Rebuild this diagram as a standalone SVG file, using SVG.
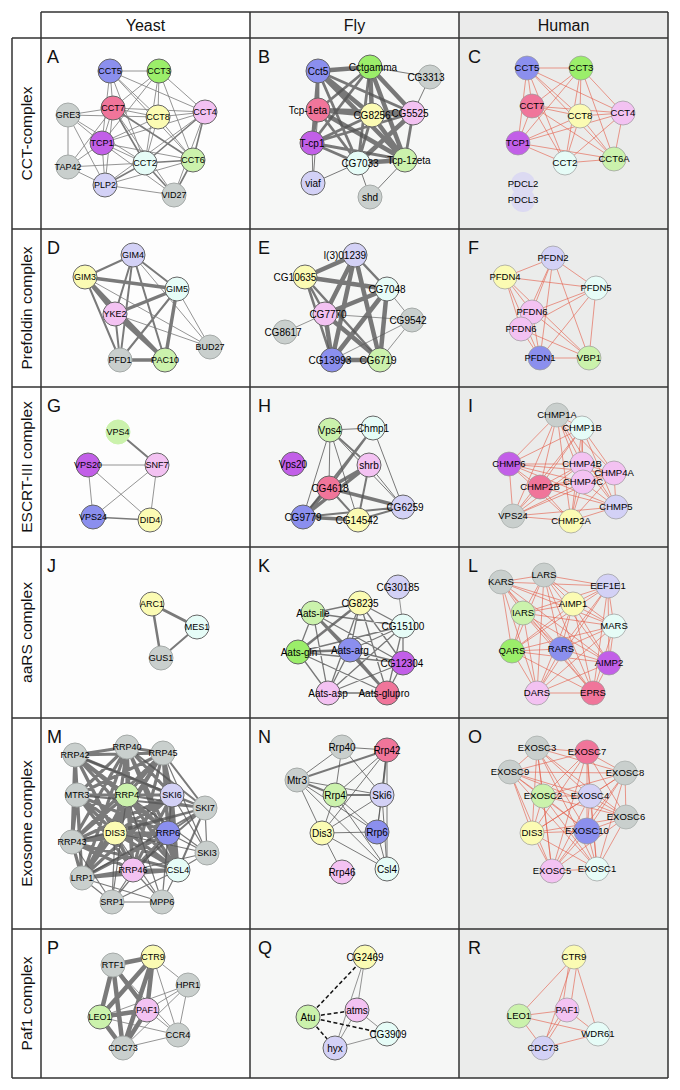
<svg xmlns="http://www.w3.org/2000/svg" width="680" height="1090" viewBox="0 0 680 1090">
<style>
.grid{fill:none;stroke:#333;stroke-width:1.5}
.hdr{font-family:"Liberation Sans",Arial,sans-serif;font-size:16px;text-anchor:middle;fill:#111}
.rl{font-family:"Liberation Sans",Arial,sans-serif;font-size:15.5px;text-anchor:middle;fill:#111}
.pl{font-family:"Liberation Sans",Arial,sans-serif;font-size:18px;fill:#111}
.ey{fill:none;stroke:#7a7a7a;stroke-linecap:round}
.ef{fill:none;stroke:#555;stroke-opacity:.78;stroke-linecap:round}
.eh{fill:none;stroke:#e4604c;stroke-width:.7;stroke-opacity:.9}
.dash{fill:none;stroke:#111;stroke-width:1.5;stroke-dasharray:4 2.5}
circle{stroke:#666;stroke-width:1}
text.n{font-family:"Liberation Sans",Arial,sans-serif;text-anchor:middle;fill:#000}
.ye text.n{font-size:9px}
.fl text.n{font-size:10px}
.hu text.n{font-size:9.5px}
.hu circle{stroke:#999;stroke-width:.7}
.b{fill:#8b8fee}.g{fill:#9bee6a}.lg{fill:#cbf2ac}.r{fill:#f0759a}.y{fill:#fbfbb3}
.p{fill:#f3c2f2}.pu{fill:#c25fe8}.c{fill:#e6fcf7}.l{fill:#d3d1f6}
circle.gr{fill:#c9cfcd;stroke:#a5aaa8}
circle.fd{fill:#dcdaf2;stroke:none}
</style>
<g id="table">
<rect x="41" y="12" width="209" height="26" fill="#ffffff"/>
<rect x="250" y="12" width="209" height="26" fill="#f6f7f6"/>
<rect x="459" y="12" width="209" height="26" fill="#ebebeb"/>
<rect x="12" y="38" width="29" height="1040" fill="#ffffff"/>
<rect x="41" y="38" width="209" height="1040" fill="#fdfdfd"/>
<rect x="250" y="38" width="209" height="1040" fill="#f6f7f6"/>
<rect x="459" y="38" width="209" height="1040" fill="#ebeceb"/>
<path class="grid" d="M41 12H668M12 38H668M12 229H668M12 387H668M12 547H668M12 718H668M12 929H668M12 1078H668M12 38V1078M41 12V1078M250 12V1078M459 12V1078M668 12V1078"/>
<text class="hdr" x="145.5" y="31">Yeast</text>
<text class="hdr" x="354.5" y="31">Fly</text>
<text class="hdr" x="563.5" y="31">Human</text>
<text class="rl" x="32" y="133.5" transform="rotate(-90 32 133.5)">CCT-complex</text>
<text class="rl" x="32" y="308" transform="rotate(-90 32 308)">Prefoldin complex</text>
<text class="rl" x="32" y="467" transform="rotate(-90 32 467)">ESCRT-III complex</text>
<text class="rl" x="32" y="632.5" transform="rotate(-90 32 632.5)">aaRS complex</text>
<text class="rl" x="32" y="823.5" transform="rotate(-90 32 823.5)">Exosome complex</text>
<text class="rl" x="32" y="1003.5" transform="rotate(-90 32 1003.5)">Paf1 complex</text>
<text class="pl" x="47" y="63">A</text><text class="pl" x="258" y="63">B</text><text class="pl" x="468" y="63">C</text>
<text class="pl" x="47" y="254">D</text><text class="pl" x="258" y="254">E</text><text class="pl" x="468" y="254">F</text>
<text class="pl" x="47" y="412">G</text><text class="pl" x="258" y="412">H</text><text class="pl" x="468" y="412">I</text>
<text class="pl" x="47" y="572">J</text><text class="pl" x="258" y="572">K</text><text class="pl" x="468" y="572">L</text>
<text class="pl" x="47" y="743">M</text><text class="pl" x="258" y="743">N</text><text class="pl" x="468" y="743">O</text>
<text class="pl" x="47" y="954">P</text><text class="pl" x="258" y="954">Q</text><text class="pl" x="468" y="954">R</text>
</g>
<g id="connectors">
<!-- A -->
<path class="ey" stroke-width="0.8" d="M110 71L159 71M110 71L113 108M110 71L158 117M110 71L205 112M110 71L102 143M110 71L145 163M110 71L193 160M159 71L113 108M159 71L158 117M159 71L205 112M159 71L102 143M159 71L145 163M159 71L193 160M113 108L158 117M113 108L205 112M113 108L102 143M158 117L205 112M158 117L102 143M158 117L145 163M158 117L193 160M205 112L102 143M102 143L145 163M102 143L193 160M68 115L113 108M68 115L158 117M68 115L102 143M68 115L145 163M68 115L105 185M68 115L68 167M68 167L113 108M68 167L102 143M68 167L145 163M68 167L105 185M105 185L113 108M105 185L102 143M105 185L193 160M105 185L174 195M105 185L205 112M174 195L113 108M174 195L102 143M174 195L205 112"/>
<path class="ey" stroke-width="1.6" d="M113 108L145 163M113 108L193 160M205 112L145 163M205 112L193 160M145 163L193 160M105 185L145 163M174 195L145 163M174 195L193 160"/>
<!-- B -->
<path class="ef" stroke-width="4.5" d="M318 71L370 67M318 110L372 115M372 115L413 113M318 71L372 115M370 67L372 115M370 67L413 113M318 110L405 160M372 115L405 160M370 67L405 160M318 71L405 160M358 163L405 160M413 113L358 163M318 110L413 113"/>
<path class="ef" stroke-width="2.8" d="M318 71L318 110M318 71L413 113M318 71L358 163M370 67L318 110M370 67L312 143M370 67L358 163M318 110L312 143M318 110L358 163M372 115L312 143M372 115L358 163M413 113L312 143M413 113L405 160M312 143L358 163M312 143L405 160M318 71L312 143"/>
<path class="ef" stroke-width="1" d="M430 77L370 67M430 77L413 113M313 183L312 143M313 183L358 163M313 183L318 110M370 197L358 163M370 197L405 160"/>
<!-- C -->
<path class="eh" d="M527 68L581 68M527 68L532 106M527 68L580 116M527 68L623 113M527 68L518 143M527 68L565 163M527 68L614 159M581 68L532 106M581 68L580 116M581 68L623 113M581 68L518 143M581 68L565 163M581 68L614 159M532 106L580 116M532 106L623 113M532 106L518 143M532 106L565 163M532 106L614 159M580 116L623 113M580 116L518 143M580 116L565 163M580 116L614 159M623 113L518 143M623 113L565 163M623 113L614 159M518 143L565 163M518 143L614 159M565 163L614 159"/>
<!-- D -->
<path class="ey" stroke-width="3.5" stroke="#6a6a6a" d="M85 277L177 289M85 277L115 314M85 277L165 360M177 289L115 314M177 289L165 360M115 314L165 360M120 360L165 360"/>
<path class="ey" stroke-width="2" stroke="#707070" d="M85 277L133 255M85 277L120 360M133 255L177 289M133 255L115 314M133 255L120 360M133 255L165 360M115 314L120 360M177 289L120 360"/>
<path class="ey" stroke-width="0.8" d="M85 277L210 347M133 255L210 347M177 289L210 347M115 314L210 347"/>
<!-- E -->
<path class="ef" stroke-width="4.5" d="M355 255L325 314M355 255L332 360M355 255L380 360M305 277L387 289M387 289L325 314M387 289L332 360M387 289L380 360M325 314L332 360M325 314L380 360M332 360L380 360M355 255L305 277"/>
<path class="ef" stroke-width="2.5" d="M355 255L387 289M305 277L325 314M305 277L332 360M305 277L380 360"/>
<path class="ef" stroke-width="0.8" stroke="#888" d="M387 289L412 320M325 314L412 320M325 314L285 332M412 320L332 360M412 320L380 360"/>
<!-- F -->
<path class="eh" d="M553 258L505 277M553 258L596 288M553 258L532 312M553 258L521 329M553 258L540 358M553 258L589 358M505 277L596 288M505 277L532 312M505 277L521 329M505 277L540 358M505 277L589 358M596 288L532 312M596 288L521 329M596 288L540 358M596 288L589 358M532 312L540 358M532 312L589 358M521 329L540 358M521 329L589 358M540 358L589 358"/>
<!-- G -->
<path class="ey" stroke-width="2" stroke="#666" d="M118 432L157 465"/>
<path class="ey" stroke-width="0.8" stroke="#8a8a8a" d="M88 465L157 465M88 465L93 517M88 465L150 520M157 465L93 517M157 465L150 520"/>
<path class="ey" stroke-width="1.3" d="M93 517L150 520"/>
<!-- H -->
<path class="ef" stroke-width="3.5" d="M369 465L329 488M369 465L303 517M329 488L303 517M329 488L403 507M303 517L358 520"/>
<path class="ef" stroke-width="2" d="M330 430L369 465M373 428L329 488M373 428L303 517M369 465L358 520M329 488L358 520M303 517L403 507M358 520L403 507"/>
<path class="ef" stroke-width="1" d="M330 430L373 428M330 430L329 488M330 430L303 517M330 430L358 520M330 430L403 507M369 465L403 507M373 428L403 507"/>
<!-- I -->
<path class="eh" d="M557 415L582 428M557 415L509 464M557 415L582 464M557 415L614 473M557 415L583 482M557 415L540 487M557 415L616 507M557 415L513 516M557 415L571 521M582 428L509 464M582 428L582 464M582 428L614 473M582 428L583 482M582 428L540 487M582 428L616 507M582 428L513 516M582 428L571 521M509 464L582 464M509 464L614 473M509 464L583 482M509 464L540 487M509 464L616 507M509 464L513 516M509 464L571 521M582 464L614 473M582 464L540 487M582 464L616 507M582 464L513 516M582 464L571 521M614 473L583 482M614 473L540 487M614 473L616 507M614 473L513 516M614 473L571 521M583 482L540 487M583 482L616 507M583 482L513 516M583 482L571 521M540 487L616 507M540 487L513 516M540 487L571 521M616 507L513 516M616 507L571 521M513 516L571 521"/>
<!-- J -->
<path class="ey" stroke-width="3" stroke="#777" d="M152 604L197 627"/>
<path class="ey" stroke-width="2.5" stroke="#777" d="M152 604L161 658"/>
<path class="ey" stroke-width="2" stroke="#777" d="M197 627L161 658"/>
<!-- K -->
<path class="ef" stroke-width="0.8" stroke="#888" d="M398 587L403 626"/>
<path class="ef" stroke-width="2.5" d="M313 613L350 650M350 650L387 693M298 652L350 650M313 613L387 693M360 603L298 652"/>
<path class="ef" stroke-width="1.3" d="M360 603L313 613M360 603L403 626M360 603L350 650M360 603L403 663M360 603L328 693M360 603L387 693M313 613L403 626M313 613L298 652M313 613L403 663M313 613L328 693M403 626L298 652M403 626L350 650M403 626L403 663M403 626L328 693M403 626L387 693M298 652L403 663M298 652L328 693M298 652L387 693M350 650L403 663M350 650L328 693M403 663L328 693M403 663L387 693M328 693L387 693"/>
<!-- L -->
<path class="eh" d="M501 582L544 575M501 582L608 586M501 582L573 604M501 582L523 613M501 582L614 626M501 582L512 651M501 582L561 649M501 582L609 663M501 582L537 693M501 582L593 693M544 575L608 586M544 575L573 604M544 575L523 613M544 575L614 626M544 575L512 651M544 575L561 649M544 575L609 663M544 575L537 693M544 575L593 693M608 586L573 604M608 586L523 613M608 586L614 626M608 586L512 651M608 586L561 649M608 586L609 663M608 586L537 693M608 586L593 693M573 604L523 613M573 604L614 626M573 604L512 651M573 604L561 649M573 604L609 663M573 604L537 693M573 604L593 693M523 613L614 626M523 613L512 651M523 613L561 649M523 613L609 663M523 613L537 693M523 613L593 693M614 626L512 651M614 626L561 649M614 626L609 663M614 626L537 693M614 626L593 693M512 651L561 649M512 651L609 663M512 651L537 693M512 651L593 693M561 649L609 663M561 649L537 693M561 649L593 693M609 663L537 693M609 663L593 693M537 693L593 693"/>
<!-- M -->
<path class="ef" stroke-width="3.2" stroke-opacity="0.72" d="M75 755L127 747M75 755L163 753M75 755L77 795M75 755L127 795M75 755L172 795M75 755L115 833M75 755L168 833M75 755L72 842M75 755L178 870M75 755L133 870M75 755L82 878M127 747L163 753M127 747L77 795M127 747L127 795M127 747L172 795M127 747L115 833M127 747L168 833M127 747L72 842M127 747L178 870M127 747L133 870M127 747L82 878M163 753L77 795M163 753L127 795M163 753L172 795M163 753L115 833M163 753L168 833M163 753L72 842M163 753L178 870M163 753L133 870M163 753L82 878M77 795L127 795M77 795L172 795M77 795L115 833M77 795L168 833M77 795L72 842M77 795L178 870M77 795L133 870M77 795L82 878M127 795L172 795M127 795L115 833M127 795L168 833M127 795L72 842M127 795L178 870M127 795L133 870M127 795L82 878M172 795L115 833M172 795L168 833M172 795L72 842M172 795L178 870M172 795L133 870M172 795L82 878M115 833L168 833M115 833L72 842M115 833L178 870M115 833L133 870M115 833L82 878M168 833L72 842M168 833L178 870M168 833L133 870M168 833L82 878M72 842L178 870M72 842L133 870M72 842L82 878M178 870L133 870M178 870L82 878M133 870L82 878"/>
<path class="ef" stroke-width="2" d="M205 808L75 755M205 808L127 747M205 808L163 753M205 808L77 795M205 808L127 795M205 808L172 795M205 808L115 833M205 808L168 833M205 808L72 842M205 808L178 870M205 808L133 870M205 808L82 878"/>
<path class="ef" stroke-width="1.2" stroke="#888" d="M205 808L207 853M207 853L163 753M207 853L172 795M207 853L168 833M207 853L178 870M207 853L133 870M207 853L115 833M207 853L127 795M112 902L82 878M112 902L133 870M112 902L115 833M112 902L127 795M112 902L168 833M112 902L162 902M112 902L178 870M112 902L72 842M162 902L133 870M162 902L178 870M162 902L168 833M162 902L115 833M162 902L127 795M162 902L82 878M162 902L172 795"/>
<!-- N -->
<path class="ef" stroke-width="2" d="M297 780L335 795M387 750L382 795M335 795L382 795M297 780L387 750"/>
<path class="ef" stroke-width="1" d="M342 747L387 750M342 747L297 780M342 747L335 795M342 747L382 795M297 780L382 795M297 780L322 833M297 780L377 832M297 780L387 869M387 750L335 795M387 750L322 833M387 750L377 832M387 750L387 869M335 795L322 833M335 795L377 832M335 795L387 869M382 795L322 833M382 795L377 832M382 795L387 869M322 833L377 832M322 833L342 872M322 833L387 869M377 832L387 869"/>
<!-- O -->
<path class="eh" d="M537 748L587 752M537 748L510 772M537 748L625 773M537 748L543 796M537 748L590 796M537 748L626 817M537 748L532 833M537 748L587 831M537 748L552 871M537 748L597 869M587 752L510 772M587 752L625 773M587 752L543 796M587 752L590 796M587 752L626 817M587 752L532 833M587 752L587 831M587 752L552 871M587 752L597 869M510 772L625 773M510 772L543 796M510 772L590 796M510 772L626 817M510 772L532 833M510 772L587 831M510 772L552 871M510 772L597 869M625 773L543 796M625 773L590 796M625 773L626 817M625 773L532 833M625 773L587 831M625 773L552 871M625 773L597 869M543 796L590 796M543 796L626 817M543 796L532 833M543 796L587 831M543 796L552 871M543 796L597 869M590 796L626 817M590 796L532 833M590 796L587 831M590 796L552 871M590 796L597 869M626 817L532 833M626 817L587 831M626 817L552 871M626 817L597 869M532 833L587 831M532 833L552 871M532 833L597 869M587 831L552 871M587 831L597 869M552 871L597 869"/>
<!-- P -->
<path class="ey" stroke-width="4.5" stroke="#737373" d="M113 965L153 957M113 965L100 1017M113 965L147 1010M113 965L123 1048M153 957L100 1017M153 957L147 1010M153 957L123 1048M100 1017L147 1010M100 1017L123 1048M147 1010L123 1048"/>
<path class="ey" stroke-width="0.8" stroke="#8a8a8a" d="M153 957L188 985M153 957L178 1035M100 1017L188 985M100 1017L178 1035M147 1010L188 985M147 1010L178 1035M123 1048L188 985M123 1048L178 1035M188 985L178 1035M113 965L178 1035"/>
<!-- Q -->
<path class="ef" stroke-width="0.8" stroke="#888" d="M365 957L357 1010M365 957L335 1048M357 1010L387 1034M357 1010L335 1048M335 1048L387 1034"/>
<path class="dash" d="M308 1017L365 957M308 1017L357 1010M308 1017L387 1034M308 1017L335 1048"/>
<!-- R -->
<path class="eh" d="M574 957L519 1016M570 957L562 1010M578 957L570 1010M574 957L543 1048M574 957L598 1034M519 1016L567 1010M519 1016L598 1034M519 1016L543 1048M567 1010L598 1034M567 1010L543 1048M562 1012L540 1048M543 1048L598 1034"/>
</g>
<g id="nodes">
<g class="ye">
<g id="A-CCT5"><circle class="b" cx="110" cy="71" r="12"/><text class="n" x="110" y="74.3">CCT5</text></g>
<g id="A-CCT3"><circle class="g" cx="159" cy="71" r="12"/><text class="n" x="159" y="74.3">CCT3</text></g>
<g id="A-CCT7"><circle class="r" cx="113" cy="108" r="12"/><text class="n" x="113" y="111.3">CCT7</text></g>
<g id="A-CCT8"><circle class="y" cx="158" cy="117" r="12"/><text class="n" x="158" y="120.3">CCT8</text></g>
<g id="A-CCT4"><circle class="p" cx="205" cy="112" r="12"/><text class="n" x="205" y="115.3">CCT4</text></g>
<g id="A-GRE3"><circle class="gr" cx="68" cy="115" r="12"/><text class="n" x="68" y="118.3">GRE3</text></g>
<g id="A-TCP1"><circle class="pu" cx="102" cy="143" r="12"/><text class="n" x="102" y="146.3">TCP1</text></g>
<g id="A-CCT2"><circle class="c" cx="145" cy="163" r="12"/><text class="n" x="145" y="166.3">CCT2</text></g>
<g id="A-CCT6"><circle class="lg" cx="193" cy="160" r="12"/><text class="n" x="193" y="163.3">CCT6</text></g>
<g id="A-TAP42"><circle class="gr" cx="68" cy="167" r="12"/><text class="n" x="68" y="170.3">TAP42</text></g>
<g id="A-PLP2"><circle class="l" cx="105" cy="185" r="12"/><text class="n" x="105" y="188.3">PLP2</text></g>
<g id="A-VID27"><circle class="gr" cx="174" cy="195" r="12"/><text class="n" x="174" y="198.3">VID27</text></g>
<g id="D-GIM4"><circle class="l" cx="133" cy="255" r="12"/><text class="n" x="133" y="258.3">GIM4</text></g>
<g id="D-GIM3"><circle class="y" cx="85" cy="277" r="12"/><text class="n" x="85" y="280.3">GIM3</text></g>
<g id="D-GIM5"><circle class="c" cx="177" cy="289" r="12"/><text class="n" x="177" y="292.3">GIM5</text></g>
<g id="D-YKE2"><circle class="p" cx="115" cy="314" r="12"/><text class="n" x="115" y="317.3">YKE2</text></g>
<g id="D-BUD27"><circle class="gr" cx="210" cy="347" r="12"/><text class="n" x="210" y="350.3">BUD27</text></g>
<g id="D-PFD1"><circle class="gr" cx="120" cy="360" r="12"/><text class="n" x="120" y="363.3">PFD1</text></g>
<g id="D-PAC10"><circle class="lg" cx="165" cy="360" r="12"/><text class="n" x="165" y="363.3">PAC10</text></g>
<g id="G-VPS4"><circle class="lg" cx="118" cy="432" r="12" style="stroke:#cbf2ac"/><text class="n" x="118" y="435.3">VPS4</text></g>
<g id="G-VPS20"><circle class="pu" cx="88" cy="465" r="12"/><text class="n" x="88" y="468.3">VPS20</text></g>
<g id="G-SNF7"><circle class="p" cx="157" cy="465" r="12"/><text class="n" x="157" y="468.3">SNF7</text></g>
<g id="G-VPS24"><circle class="b" cx="93" cy="517" r="12"/><text class="n" x="93" y="520.3">VPS24</text></g>
<g id="G-DID4"><circle class="y" cx="150" cy="520" r="12"/><text class="n" x="150" y="523.3">DID4</text></g>
<g id="J-ARC1"><circle class="y" cx="152" cy="604" r="12"/><text class="n" x="152" y="607.3">ARC1</text></g>
<g id="J-MES1"><circle class="c" cx="197" cy="627" r="12"/><text class="n" x="197" y="630.3">MES1</text></g>
<g id="J-GUS1"><circle class="gr" cx="161" cy="658" r="12"/><text class="n" x="161" y="661.3">GUS1</text></g>
<g id="M-RRP42"><circle class="gr" cx="75" cy="755" r="12"/><text class="n" x="75" y="758.3">RRP42</text></g>
<g id="M-RRP40"><circle class="gr" cx="127" cy="747" r="12"/><text class="n" x="127" y="750.3">RRP40</text></g>
<g id="M-RRP45"><circle class="gr" cx="163" cy="753" r="12"/><text class="n" x="163" y="756.3">RRP45</text></g>
<g id="M-MTR3"><circle class="gr" cx="77" cy="795" r="12"/><text class="n" x="77" y="798.3">MTR3</text></g>
<g id="M-RRP4"><circle class="lg" cx="127" cy="795" r="12"/><text class="n" x="127" y="798.3">RRP4</text></g>
<g id="M-SKI6"><circle class="l" cx="172" cy="795" r="12"/><text class="n" x="172" y="798.3">SKI6</text></g>
<g id="M-SKI7"><circle class="gr" cx="205" cy="808" r="12"/><text class="n" x="205" y="811.3">SKI7</text></g>
<g id="M-DIS3"><circle class="y" cx="115" cy="833" r="12"/><text class="n" x="115" y="836.3">DIS3</text></g>
<g id="M-RRP6"><circle class="b" cx="168" cy="833" r="12"/><text class="n" x="168" y="836.3">RRP6</text></g>
<g id="M-RRP43"><circle class="gr" cx="72" cy="842" r="12"/><text class="n" x="72" y="845.3">RRP43</text></g>
<g id="M-SKI3"><circle class="gr" cx="207" cy="853" r="12"/><text class="n" x="207" y="856.3">SKI3</text></g>
<g id="M-CSL4"><circle class="c" cx="178" cy="870" r="12"/><text class="n" x="178" y="873.3">CSL4</text></g>
<g id="M-RRP46"><circle class="p" cx="133" cy="870" r="12"/><text class="n" x="133" y="873.3">RRP46</text></g>
<g id="M-LRP1"><circle class="gr" cx="82" cy="878" r="12"/><text class="n" x="82" y="881.3">LRP1</text></g>
<g id="M-SRP1"><circle class="gr" cx="112" cy="902" r="12"/><text class="n" x="112" y="905.3">SRP1</text></g>
<g id="M-MPP6"><circle class="gr" cx="162" cy="902" r="12"/><text class="n" x="162" y="905.3">MPP6</text></g>
<g id="P-RTF1"><circle class="gr" cx="113" cy="965" r="12"/><text class="n" x="113" y="968.3">RTF1</text></g>
<g id="P-CTR9"><circle class="y" cx="153" cy="957" r="12"/><text class="n" x="153" y="960.3">CTR9</text></g>
<g id="P-HPR1"><circle class="gr" cx="188" cy="985" r="12"/><text class="n" x="188" y="988.3">HPR1</text></g>
<g id="P-LEO1"><circle class="lg" cx="100" cy="1017" r="12"/><text class="n" x="100" y="1020.3">LEO1</text></g>
<g id="P-PAF1"><circle class="p" cx="147" cy="1010" r="12"/><text class="n" x="147" y="1013.3">PAF1</text></g>
<g id="P-CCR4"><circle class="gr" cx="178" cy="1035" r="12"/><text class="n" x="178" y="1038.3">CCR4</text></g>
<g id="P-CDC73"><circle class="gr" cx="123" cy="1048" r="12"/><text class="n" x="123" y="1051.3">CDC73</text></g>
</g>
<g class="fl">
<g id="B-Cct5"><circle class="b" cx="318" cy="71" r="12"/><text class="n" x="318" y="74.5">Cct5</text></g>
<g id="B-Cctgamma"><circle class="g" cx="370" cy="67" r="12"/><text class="n" x="373" y="70.5">Cctgamma</text></g>
<g id="B-CG3313"><circle class="gr" cx="430" cy="77" r="12"/><text class="n" x="426" y="80.5">CG3313</text></g>
<g id="B-Tcp-1eta"><circle class="r" cx="318" cy="110" r="12"/><text class="n" x="308" y="113.5">Tcp-1eta</text></g>
<g id="B-CG8256"><circle class="y" cx="372" cy="115" r="12"/><text class="n" x="372" y="118.5">CG8256</text></g>
<g id="B-CG5525"><circle class="p" cx="413" cy="113" r="12"/><text class="n" x="410" y="116.5">CG5525</text></g>
<g id="B-T-cp1"><circle class="pu" cx="312" cy="143" r="12"/><text class="n" x="312" y="146.5">T-cp1</text></g>
<g id="B-CG7033"><circle class="c" cx="358" cy="163" r="12"/><text class="n" x="360" y="166.5">CG7033</text></g>
<g id="B-Tcp-1zeta"><circle class="lg" cx="405" cy="160" r="12"/><text class="n" x="409" y="163.5">Tcp-1zeta</text></g>
<g id="B-viaf"><circle class="l" cx="313" cy="183" r="12"/><text class="n" x="313" y="186.5">viaf</text></g>
<g id="B-shd"><circle class="gr" cx="370" cy="197" r="12"/><text class="n" x="370" y="200.5">shd</text></g>
<g id="E-l301239"><circle class="l" cx="355" cy="255" r="12"/><text class="n" x="345" y="258.5">l(3)01239</text></g>
<g id="E-CG10635"><circle class="y" cx="305" cy="277" r="12"/><text class="n" x="295" y="280.5">CG10635</text></g>
<g id="E-CG7048"><circle class="c" cx="387" cy="289" r="12"/><text class="n" x="387" y="292.5">CG7048</text></g>
<g id="E-CG7770"><circle class="p" cx="325" cy="314" r="12"/><text class="n" x="328" y="317.5">CG7770</text></g>
<g id="E-CG9542"><circle class="gr" cx="412" cy="320" r="12"/><text class="n" x="408" y="323.5">CG9542</text></g>
<g id="E-CG8617"><circle class="gr" cx="285" cy="332" r="12"/><text class="n" x="283" y="335.5">CG8617</text></g>
<g id="E-CG13993"><circle class="b" cx="332" cy="360" r="12"/><text class="n" x="330" y="363.5">CG13993</text></g>
<g id="E-CG6719"><circle class="lg" cx="380" cy="360" r="12"/><text class="n" x="378" y="363.5">CG6719</text></g>
<g id="H-Vps4"><circle class="lg" cx="330" cy="430" r="12"/><text class="n" x="330" y="433.5">Vps4</text></g>
<g id="H-Chmp1"><circle class="c" cx="373" cy="428" r="12"/><text class="n" x="373" y="431.5">Chmp1</text></g>
<g id="H-Vps20"><circle class="pu" cx="293" cy="464" r="12"/><text class="n" x="293" y="467.5">Vps20</text></g>
<g id="H-shrb"><circle class="p" cx="369" cy="465" r="12"/><text class="n" x="369" y="468.5">shrb</text></g>
<g id="H-CG4618"><circle class="r" cx="329" cy="488" r="12"/><text class="n" x="330" y="491.5">CG4618</text></g>
<g id="H-CG9779"><circle class="b" cx="303" cy="517" r="12"/><text class="n" x="303" y="520.5">CG9779</text></g>
<g id="H-CG14542"><circle class="y" cx="358" cy="520" r="12"/><text class="n" x="357" y="523.5">CG14542</text></g>
<g id="H-CG6259"><circle class="l" cx="403" cy="507" r="12"/><text class="n" x="405" y="510.5">CG6259</text></g>
<g id="K-CG30185"><circle class="l" cx="398" cy="587" r="12"/><text class="n" x="398" y="590.5">CG30185</text></g>
<g id="K-CG8235"><circle class="y" cx="360" cy="603" r="12"/><text class="n" x="360" y="606.5">CG8235</text></g>
<g id="K-Aats-ile"><circle class="lg" cx="313" cy="613" r="12"/><text class="n" x="313" y="616.5">Aats-ile</text></g>
<g id="K-CG15100"><circle class="c" cx="403" cy="626" r="12"/><text class="n" x="403" y="629.5">CG15100</text></g>
<g id="K-Aats-gln"><circle class="g" cx="298" cy="652" r="12"/><text class="n" x="299" y="655.5">Aats-gln</text></g>
<g id="K-Aats-arg"><circle class="b" cx="350" cy="650" r="12"/><text class="n" x="350" y="653.5">Aats-arg</text></g>
<g id="K-CG12304"><circle class="pu" cx="403" cy="663" r="12"/><text class="n" x="402" y="666.5">CG12304</text></g>
<g id="K-Aats-asp"><circle class="p" cx="328" cy="693" r="12"/><text class="n" x="328" y="696.5">Aats-asp</text></g>
<g id="K-Aats-glupro"><circle class="r" cx="387" cy="693" r="12"/><text class="n" x="384" y="696.5">Aats-glupro</text></g>
<g id="N-Rrp40"><circle class="gr" cx="342" cy="747" r="12"/><text class="n" x="342" y="750.5">Rrp40</text></g>
<g id="N-Rrp42"><circle class="r" cx="387" cy="750" r="12"/><text class="n" x="387" y="753.5">Rrp42</text></g>
<g id="N-Mtr3"><circle class="gr" cx="297" cy="780" r="12"/><text class="n" x="297" y="783.5">Mtr3</text></g>
<g id="N-Rrp4"><circle class="lg" cx="335" cy="795" r="12"/><text class="n" x="335" y="798.5">Rrp4</text></g>
<g id="N-Ski6"><circle class="l" cx="382" cy="795" r="12"/><text class="n" x="382" y="798.5">Ski6</text></g>
<g id="N-Dis3"><circle class="y" cx="322" cy="833" r="12"/><text class="n" x="322" y="836.5">Dis3</text></g>
<g id="N-Rrp6"><circle class="b" cx="377" cy="832" r="12"/><text class="n" x="377" y="835.5">Rrp6</text></g>
<g id="N-Rrp46"><circle class="p" cx="342" cy="872" r="12"/><text class="n" x="342" y="875.5">Rrp46</text></g>
<g id="N-Csl4"><circle class="c" cx="387" cy="869" r="12"/><text class="n" x="387" y="872.5">Csl4</text></g>
<g id="Q-CG2469"><circle class="y" cx="365" cy="957" r="12"/><text class="n" x="365" y="960.5">CG2469</text></g>
<g id="Q-Atu"><circle class="lg" cx="308" cy="1017" r="12"/><text class="n" x="308" y="1020.5">Atu</text></g>
<g id="Q-atms"><circle class="p" cx="357" cy="1010" r="12"/><text class="n" x="357" y="1013.5">atms</text></g>
<g id="Q-CG3909"><circle class="c" cx="387" cy="1034" r="12"/><text class="n" x="388" y="1037.5">CG3909</text></g>
<g id="Q-hyx"><circle class="l" cx="335" cy="1048" r="12"/><text class="n" x="335" y="1051.5">hyx</text></g>
</g>
<g class="hu">
<g id="C-CCT5"><circle class="b" cx="527" cy="68" r="12"/><text class="n" x="527" y="71.4">CCT5</text></g>
<g id="C-CCT3"><circle class="g" cx="581" cy="68" r="12"/><text class="n" x="581" y="71.4">CCT3</text></g>
<g id="C-CCT7"><circle class="r" cx="532" cy="106" r="12"/><text class="n" x="532" y="109.4">CCT7</text></g>
<g id="C-CCT8"><circle class="y" cx="580" cy="116" r="12"/><text class="n" x="580" y="119.4">CCT8</text></g>
<g id="C-CCT4"><circle class="p" cx="623" cy="113" r="12"/><text class="n" x="623" y="116.4">CCT4</text></g>
<g id="C-TCP1"><circle class="pu" cx="518" cy="143" r="12"/><text class="n" x="518" y="146.4">TCP1</text></g>
<g id="C-CCT2"><circle class="c" cx="565" cy="163" r="12"/><text class="n" x="565" y="166.4">CCT2</text></g>
<g id="C-CCT6A"><circle class="lg" cx="614" cy="159" r="12"/><text class="n" x="614" y="162.4">CCT6A</text></g>
<g id="C-PDCL2"><circle class="fd" cx="523" cy="184" r="12"/><text class="n" x="523" y="187.4">PDCL2</text></g>
<g id="C-PDCL3"><circle class="fd" cx="523" cy="200" r="12"/><text class="n" x="523" y="203.4">PDCL3</text></g>
<g id="F-PFDN2"><circle class="l" cx="553" cy="258" r="12"/><text class="n" x="553" y="261.4">PFDN2</text></g>
<g id="F-PFDN4"><circle class="y" cx="505" cy="277" r="12"/><text class="n" x="505" y="280.4">PFDN4</text></g>
<g id="F-PFDN5"><circle class="c" cx="596" cy="288" r="12"/><text class="n" x="596" y="291.4">PFDN5</text></g>
<g id="F-PFDN6a"><circle class="p" cx="532" cy="312" r="12"/><text class="n" x="532" y="315.4">PFDN6</text></g>
<g id="F-PFDN6b"><circle class="p" cx="521" cy="329" r="12"/><text class="n" x="521" y="332.4">PFDN6</text></g>
<g id="F-PFDN1"><circle class="b" cx="540" cy="358" r="12"/><text class="n" x="540" y="361.4">PFDN1</text></g>
<g id="F-VBP1"><circle class="lg" cx="589" cy="358" r="12"/><text class="n" x="589" y="361.4">VBP1</text></g>
<g id="I-CHMP1A"><circle class="gr" cx="557" cy="415" r="12"/><text class="n" x="557" y="418.4">CHMP1A</text></g>
<g id="I-CHMP1B"><circle class="c" cx="582" cy="428" r="12"/><text class="n" x="582" y="431.4">CHMP1B</text></g>
<g id="I-CHMP6"><circle class="pu" cx="509" cy="464" r="12"/><text class="n" x="509" y="467.4">CHMP6</text></g>
<g id="I-CHMP4A"><circle class="p" cx="614" cy="473" r="12"/><text class="n" x="614" y="476.4">CHMP4A</text></g>
<g id="I-CHMP4B"><circle class="p" cx="582" cy="464" r="12"/><text class="n" x="582" y="467.4">CHMP4B</text></g>
<g id="I-CHMP4C"><circle class="p" cx="583" cy="482" r="12"/><text class="n" x="583" y="485.4">CHMP4C</text></g>
<g id="I-CHMP2B"><circle class="r" cx="540" cy="487" r="12"/><text class="n" x="540" y="490.4">CHMP2B</text></g>
<g id="I-CHMP5"><circle class="l" cx="616" cy="507" r="12"/><text class="n" x="616" y="510.4">CHMP5</text></g>
<g id="I-VPS24"><circle class="gr" cx="513" cy="516" r="12"/><text class="n" x="513" y="519.4">VPS24</text></g>
<g id="I-CHMP2A"><circle class="y" cx="571" cy="521" r="12"/><text class="n" x="571" y="524.4">CHMP2A</text></g>
<g id="L-KARS"><circle class="gr" cx="501" cy="582" r="12"/><text class="n" x="501" y="585.4">KARS</text></g>
<g id="L-LARS"><circle class="gr" cx="544" cy="575" r="12"/><text class="n" x="544" y="578.4">LARS</text></g>
<g id="L-EEF1E1"><circle class="l" cx="608" cy="586" r="12"/><text class="n" x="608" y="589.4">EEF1E1</text></g>
<g id="L-AIMP1"><circle class="y" cx="573" cy="604" r="12"/><text class="n" x="573" y="607.4">AIMP1</text></g>
<g id="L-IARS"><circle class="lg" cx="523" cy="613" r="12"/><text class="n" x="523" y="616.4">IARS</text></g>
<g id="L-MARS"><circle class="c" cx="614" cy="626" r="12"/><text class="n" x="614" y="629.4">MARS</text></g>
<g id="L-QARS"><circle class="g" cx="512" cy="651" r="12"/><text class="n" x="512" y="654.4">QARS</text></g>
<g id="L-RARS"><circle class="b" cx="561" cy="649" r="12"/><text class="n" x="561" y="652.4">RARS</text></g>
<g id="L-AIMP2"><circle class="pu" cx="609" cy="663" r="12"/><text class="n" x="609" y="666.4">AIMP2</text></g>
<g id="L-DARS"><circle class="p" cx="537" cy="693" r="12"/><text class="n" x="537" y="696.4">DARS</text></g>
<g id="L-EPRS"><circle class="r" cx="593" cy="693" r="12"/><text class="n" x="593" y="696.4">EPRS</text></g>
<g id="O-EXOSC3"><circle class="gr" cx="537" cy="748" r="12"/><text class="n" x="537" y="751.4">EXOSC3</text></g>
<g id="O-EXOSC7"><circle class="r" cx="587" cy="752" r="12"/><text class="n" x="587" y="755.4">EXOSC7</text></g>
<g id="O-EXOSC9"><circle class="gr" cx="510" cy="772" r="12"/><text class="n" x="510" y="775.4">EXOSC9</text></g>
<g id="O-EXOSC8"><circle class="gr" cx="625" cy="773" r="12"/><text class="n" x="625" y="776.4">EXOSC8</text></g>
<g id="O-EXOSC2"><circle class="lg" cx="543" cy="796" r="12"/><text class="n" x="543" y="799.4">EXOSC2</text></g>
<g id="O-EXOSC4"><circle class="l" cx="590" cy="796" r="12"/><text class="n" x="590" y="799.4">EXOSC4</text></g>
<g id="O-EXOSC6"><circle class="gr" cx="626" cy="817" r="12"/><text class="n" x="626" y="820.4">EXOSC6</text></g>
<g id="O-DIS3"><circle class="y" cx="532" cy="833" r="12"/><text class="n" x="532" y="836.4">DIS3</text></g>
<g id="O-EXOSC10"><circle class="b" cx="587" cy="831" r="13"/><text class="n" x="587" y="834.4">EXOSC10</text></g>
<g id="O-EXOSC5"><circle class="p" cx="552" cy="871" r="12"/><text class="n" x="552" y="874.4">EXOSC5</text></g>
<g id="O-EXOSC1"><circle class="c" cx="597" cy="869" r="12"/><text class="n" x="597" y="872.4">EXOSC1</text></g>
<g id="R-CTR9"><circle class="y" cx="574" cy="957" r="12"/><text class="n" x="574" y="960.4">CTR9</text></g>
<g id="R-LEO1"><circle class="lg" cx="519" cy="1016" r="12"/><text class="n" x="519" y="1019.4">LEO1</text></g>
<g id="R-PAF1"><circle class="p" cx="567" cy="1010" r="12"/><text class="n" x="567" y="1013.4">PAF1</text></g>
<g id="R-WDR61"><circle class="c" cx="598" cy="1034" r="12"/><text class="n" x="598" y="1037.4">WDR61</text></g>
<g id="R-CDC73"><circle class="l" cx="543" cy="1048" r="12"/><text class="n" x="543" y="1051.4">CDC73</text></g>
</g>
</g>
</svg>
